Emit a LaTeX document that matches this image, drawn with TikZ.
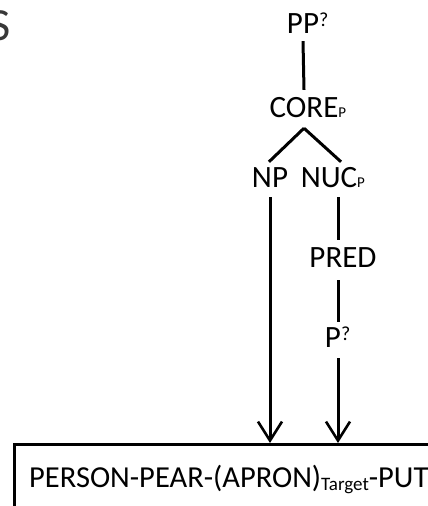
\documentclass[tikz,border=0pt]{standalone}
\usepackage{fontspec}
\setmainfont{Carlito}
\usetikzlibrary{arrows.meta}
\begin{document}
\begin{tikzpicture}[x=1pt,y=-1pt,
  lbl/.style={inner xsep=0pt, inner ysep=8pt, text height=19pt, text depth=0pt,
    font=\fontsize{31}{33}\selectfont},
  edge/.style={line width=3pt},
  arr/.style={line width=3pt, -{Straight Barb[length=19pt,width=24pt,line width=2.6pt]}},
  frame/.style={draw, line width=2.6pt, minimum width=500pt, minimum height=100pt,
    anchor=north west, inner sep=0pt}]
\newcommand{\supq}{\rlap{\raisebox{7pt}{\fontsize{20}{20}\selectfont ?}}}
\newcommand{\subp}{\rlap{\fontsize{15}{15}\selectfont P}}
\useasboundingbox (0,0) rectangle (428,506);

% heading letter running off the left edge
\node[anchor=base east, inner sep=0pt, text=black!78,
  font=\fontsize{46}{46}\selectfont] (s) at (11,40) {S};

% tree labels
\node[lbl, anchor=base] (pp)   at (303,33)  {PP\supq};
\node[lbl, anchor=base] (core) at (304,117) {CORE\subp};
\node[lbl, anchor=base] (np)   at (270,187) {NP};
\node[lbl, anchor=base] (nuc)  at (329,187) {NUC\subp};
\node[lbl, anchor=base] (pred) at (343,267) {PRED};
\node[lbl, anchor=base] (p)    at (333,347) {P\supq};

% target frame and its text
\node[frame] (box) at (13,443) {};
\node[inner sep=0pt, anchor=base west, font=\fontsize{30.5}{33}\selectfont] (tgt) at (29,487)
  {PERSON-PEAR-(APRON)\raisebox{-3pt}{\fontsize{19}{19}\selectfont Target}-PUT};

\coordinate (rx) at (338,443);

% connectors
\draw[edge] (pp.south) -- (core.north);
\draw[edge] ([yshift=-3pt]core.south) -- ([xshift=-1pt,yshift=-2pt]np.north);
\draw[edge] ([yshift=-3pt]core.south) -- ([xshift=12pt,yshift=-2pt]nuc.north);
\draw[arr] ([yshift=-2pt]np.south) -- (np.south |- box.north);
\draw[edge] ([yshift=-2pt]nuc.south -| rx) -- (pred.north -| rx);
\draw[edge] ([yshift=-5pt]pred.south -| rx) -- ([yshift=-2pt]p.north -| rx);
\draw[arr] ([yshift=-3pt]p.south -| rx) -- (rx);
\end{tikzpicture}
\end{document}
